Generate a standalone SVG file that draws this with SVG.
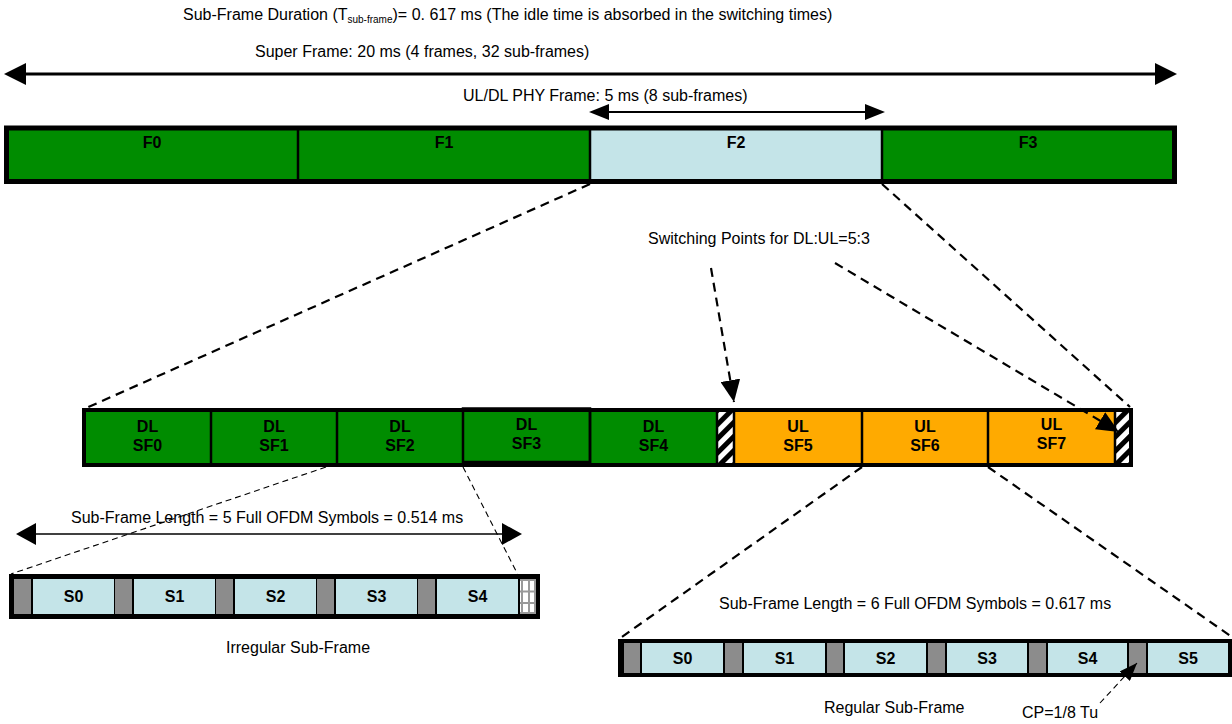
<svg xmlns="http://www.w3.org/2000/svg" width="1232" height="724" viewBox="0 0 1232 724">
<style>
.t{font-family:"Liberation Sans",Arial,sans-serif;font-size:16px;fill:#000}
.b{font-family:"Liberation Sans",Arial,sans-serif;font-size:16px;font-weight:bold;fill:#000;text-anchor:middle}
.g{fill:#008c00}
.lb{fill:#c4e4e8}
.or{fill:#ffaa00}
.gr{fill:#8c8c8c}
.div{stroke:#000;stroke-width:2.5}
.dt{fill:none;stroke:#000;stroke-width:2.2;stroke-dasharray:9 6}
.dn{fill:none;stroke:#000;stroke-width:1.1;stroke-dasharray:6 4}
</style>
<defs>
<marker id="ahBig" markerUnits="userSpaceOnUse" markerWidth="22" markerHeight="22" refX="0" refY="11" orient="auto-start-reverse"><path d="M0,0 L22,11 L0,22 z" fill="#000"/></marker>
<marker id="ahMed" markerUnits="userSpaceOnUse" markerWidth="20" markerHeight="16" refX="0" refY="8" orient="auto-start-reverse"><path d="M0,0 L20,8 L0,16 z" fill="#000"/></marker>
<marker id="ahSub" markerUnits="userSpaceOnUse" markerWidth="20" markerHeight="22" refX="0" refY="11" orient="auto-start-reverse"><path d="M0,0 L20,11 L0,22 z" fill="#000"/></marker>
<marker id="ahDash" markerUnits="userSpaceOnUse" markerWidth="22" markerHeight="20" refX="22" refY="10" orient="auto"><path d="M0,0 L22,10 L0,20 z" fill="#000"/></marker>
<marker id="ahCP" markerUnits="userSpaceOnUse" markerWidth="18" markerHeight="14" refX="18" refY="7" orient="auto"><path d="M0,0 L18,7 L0,14 z" fill="#000"/></marker>
<pattern id="hatch" patternUnits="userSpaceOnUse" width="10" height="10" patternTransform="rotate(45)"><rect width="10" height="10" fill="#000"/><rect width="5" height="10" fill="#fff"/></pattern>
</defs>
<rect width="1232" height="724" fill="#fff"/>

<g id="titles">
<text class="t" x="183" y="20">Sub-Frame Duration (T<tspan font-size="10" dy="3">sub-frame</tspan><tspan dy="-3">)= 0. 617 ms (The idle time is absorbed in the switching times)</tspan></text>
<text class="t" x="255" y="57">Super Frame: 20 ms (4 frames, 32 sub-frames)</text>
<text class="t" x="463" y="101">UL/DL PHY Frame: 5 ms (8 sub-frames)</text>
<text class="t" x="648" y="244">Switching Points for DL:UL=5:3</text>
</g>

<g id="superframe-arrow">
<line x1="26" y1="74" x2="1155" y2="74" stroke="#000" stroke-width="3" marker-start="url(#ahBig)" marker-end="url(#ahBig)"/>
</g>
<g id="frame-arrow">
<line x1="609" y1="112" x2="865" y2="112" stroke="#000" stroke-width="2" marker-start="url(#ahMed)" marker-end="url(#ahMed)"/>
</g>

<g id="superframe">
<g id="F0"><rect class="g" x="8" y="130" width="290" height="50"/><text class="b" x="152" y="148">F0</text></g>
<g id="F1"><rect class="g" x="298" y="130" width="292" height="50"/><text class="b" x="444" y="148">F1</text></g>
<g id="F2"><rect class="lb" x="590" y="130" width="292" height="50"/><text class="b" x="736" y="148">F2</text></g>
<g id="F3"><rect class="g" x="882" y="130" width="293" height="50"/><text class="b" x="1028" y="148">F3</text></g>
<line class="div" x1="298" y1="128" x2="298" y2="182"/>
<line class="div" x1="590" y1="128" x2="590" y2="182"/>
<line class="div" x1="882" y1="128" x2="882" y2="182"/>
<rect x="6.5" y="128" width="1168" height="53.5" fill="none" stroke="#000" stroke-width="5"/>
</g>

<g id="frame">
<g id="SF0"><rect class="g" x="84" y="410" width="127" height="55"/><text class="b" x="147.5" y="432">DL</text><text class="b" x="147.5" y="451">SF0</text></g>
<g id="SF1"><rect class="g" x="211" y="410" width="126" height="55"/><text class="b" x="274" y="432">DL</text><text class="b" x="274" y="451">SF1</text></g>
<g id="SF2"><rect class="g" x="337" y="410" width="126" height="55"/><text class="b" x="400" y="432">DL</text><text class="b" x="400" y="451">SF2</text></g>
<g id="SF3"><rect class="g" x="463" y="410" width="127" height="55"/><text class="b" x="526.5" y="430">DL</text><text class="b" x="526.5" y="449">SF3</text></g>
<g id="SF4"><rect class="g" x="590" y="410" width="127" height="55"/><text class="b" x="653.5" y="432">DL</text><text class="b" x="653.5" y="451">SF4</text></g>
<g id="switch1"><rect x="717" y="410" width="17" height="55" fill="url(#hatch)"/></g>
<g id="SF5"><rect class="or" x="734" y="410" width="128" height="55"/><text class="b" x="798" y="432">UL</text><text class="b" x="798" y="451">SF5</text></g>
<g id="SF6"><rect class="or" x="862" y="410" width="126" height="55"/><text class="b" x="925" y="432">UL</text><text class="b" x="925" y="451">SF6</text></g>
<g id="SF7"><rect class="or" x="988" y="410" width="127" height="55"/><text class="b" x="1051.5" y="430">UL</text><text class="b" x="1051.5" y="449">SF7</text></g>
<g id="switch2"><rect x="1115" y="410" width="16" height="55" fill="url(#hatch)"/></g>
<line class="div" x1="211" y1="410" x2="211" y2="465"/>
<line class="div" x1="337" y1="410" x2="337" y2="465"/>
<line class="div" x1="590" y1="410" x2="590" y2="465"/>
<line class="div" x1="717" y1="410" x2="717" y2="465"/>
<line class="div" x1="734" y1="410" x2="734" y2="465"/>
<line class="div" x1="862" y1="410" x2="862" y2="465"/>
<line class="div" x1="988" y1="410" x2="988" y2="465"/>
<line class="div" x1="1115" y1="410" x2="1115" y2="465"/>
<rect x="463" y="408.5" width="127" height="53.5" fill="none" stroke="#000" stroke-width="2.5"/>
<rect x="84" y="410" width="1047" height="55" fill="none" stroke="#000" stroke-width="4"/>
</g>

<g id="irregular-subframe">
<rect x="11.5" y="576.5" width="526" height="40" fill="#000" stroke="#000" stroke-width="5"/>
<rect class="gr" x="14" y="579" width="17" height="35"/>
<rect class="lb" x="33" y="579" width="81" height="35"/>
<rect class="gr" x="115" y="579" width="17" height="35"/>
<rect class="lb" x="134" y="579" width="81" height="35"/>
<rect class="gr" x="216" y="579" width="17" height="35"/>
<rect class="lb" x="235" y="579" width="81" height="35"/>
<rect class="gr" x="317" y="579" width="17" height="35"/>
<rect class="lb" x="336" y="579" width="81" height="35"/>
<rect class="gr" x="418" y="579" width="17" height="35"/>
<rect class="lb" x="437" y="579" width="81" height="35"/>
<rect x="520" y="579" width="16" height="35" fill="#fff"/>
<path d="M522,579 V614 M529,579 V614 M535,579 V614 M520,580 H536 M520,591.5 H536 M520,603 H536 M520,613 H536" stroke="#999" stroke-width="2" fill="none"/>
<text class="b" x="73.5" y="602">S0</text>
<text class="b" x="174.5" y="602">S1</text>
<text class="b" x="275.5" y="602">S2</text>
<text class="b" x="376.5" y="602">S3</text>
<text class="b" x="477.5" y="602">S4</text>
<line x1="36" y1="534" x2="502" y2="534" stroke="#000" stroke-width="1.5" marker-start="url(#ahSub)" marker-end="url(#ahSub)"/>
<text class="t" x="71" y="523">Sub-Frame Length = 5 Full OFDM Symbols = 0.514 ms</text>
<text class="t" x="226" y="653">Irregular Sub-Frame</text>
</g>

<g id="regular-subframe">
<rect x="620" y="641" width="610" height="34" fill="#000" stroke="#000" stroke-width="4"/>
<rect class="gr" x="624" y="643" width="16" height="30"/>
<rect class="lb" x="642" y="643" width="81" height="30"/>
<rect class="gr" x="725" y="643" width="17" height="30"/>
<rect class="lb" x="744" y="643" width="81" height="30"/>
<rect class="gr" x="827" y="643" width="16" height="30"/>
<rect class="lb" x="845" y="643" width="81" height="30"/>
<rect class="gr" x="928" y="643" width="17" height="30"/>
<rect class="lb" x="947" y="643" width="80" height="30"/>
<rect class="gr" x="1029" y="643" width="17" height="30"/>
<rect class="lb" x="1048" y="643" width="79" height="30"/>
<rect class="gr" x="1129" y="643" width="17" height="30"/>
<rect class="lb" x="1148" y="643" width="80" height="30"/>
<text class="b" x="682.5" y="664">S0</text>
<text class="b" x="784.5" y="664">S1</text>
<text class="b" x="885.5" y="664">S2</text>
<text class="b" x="987" y="664">S3</text>
<text class="b" x="1087.5" y="664">S4</text>
<text class="b" x="1188" y="664">S5</text>
<text class="t" x="719" y="609">Sub-Frame Length = 6 Full OFDM Symbols = 0.617 ms</text>
<text class="t" x="824" y="713">Regular Sub-Frame</text>
<text class="t" x="1022" y="718">CP=1/8 Tu</text>
</g>

<g id="connectors">
<line class="dt" x1="590" y1="184" x2="84" y2="409"/>
<line class="dt" x1="882" y1="184" x2="1130" y2="407"/>
<line class="dt" x1="711" y1="268" x2="734" y2="402" marker-end="url(#ahDash)"/>
<line class="dt" x1="835" y1="263" x2="1119" y2="432" marker-end="url(#ahDash)"/>
<line class="dn" x1="326" y1="467" x2="11" y2="574"/>
<line class="dn" x1="463" y1="467" x2="518" y2="575"/>
<line class="dt" x1="862" y1="467" x2="619" y2="639"/>
<line class="dt" x1="988" y1="467" x2="1232" y2="637"/>
<line class="dn" x1="1100" y1="703" x2="1137" y2="663" marker-end="url(#ahCP)"/>
</g>
</svg>
